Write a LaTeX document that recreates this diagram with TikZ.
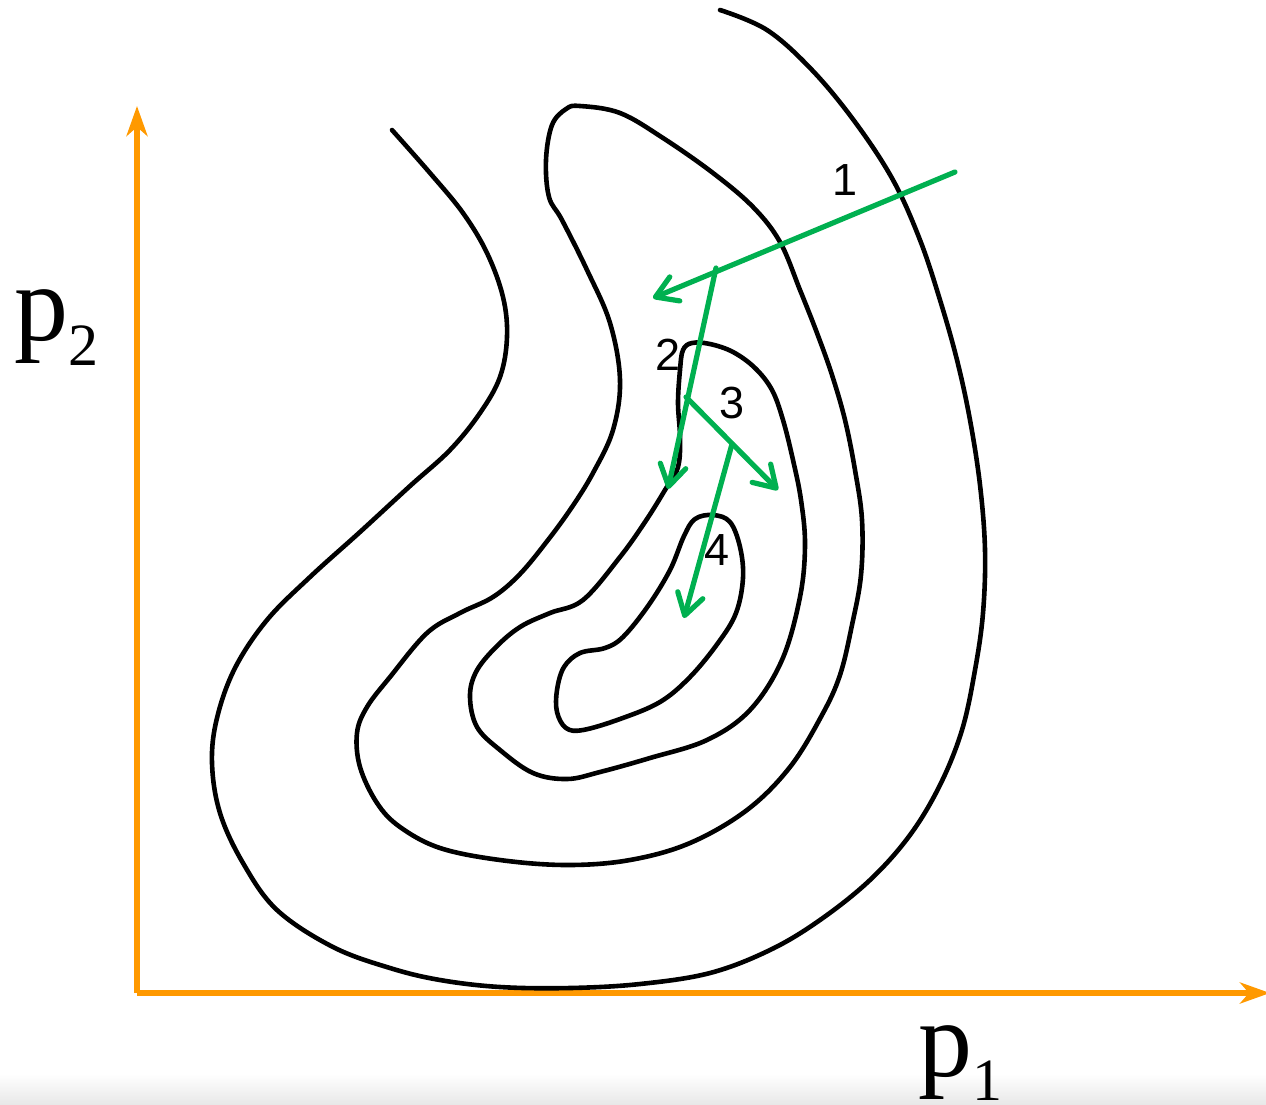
\documentclass[tikz,border=0pt]{standalone}
\usepackage{fontspec}
\setmainfont{Liberation Serif}
\newfontfamily\arialf{Liberation Sans}
\usetikzlibrary{arrows.meta}
\definecolor{pgreen}{RGB}{0,176,80}
\definecolor{porange}{RGB}{255,153,0}
\begin{document}
\begin{tikzpicture}[x=1pt,y=-1pt,
  contour/.style={draw=black, line width=4.6pt, line join=round, line cap=round},
  grad/.style={draw=pgreen, line width=5.2pt, line cap=round, -{Straight Barb[length=21pt,width=26pt,round]}},
  axisline/.style={draw=porange, line width=6.5pt, -{Stealth[length=30pt,width=21pt,inset=9pt]}},
  num/.style={font=\arialf\fontsize{45}{45}\selectfont, inner sep=0pt, anchor=base},
  axlabel/.style={font=\fontsize{108}{108}\selectfont, inner sep=0pt, anchor=base west}]
\useasboundingbox (0,0) rectangle (1266,1104);
\shade[top color=white, bottom color=black!9] (0,1074) rectangle (1266,1104);

% axes
\coordinate (O) at (137,993);
\coordinate (ytip) at (137,106);
\coordinate (xtip) at (1270,993);
\draw[axisline] (O) -- (ytip);
\draw[axisline] (O) -- (xtip);
\node[axlabel] (p2) at (14,340) {p\raisebox{-25pt}{\fontsize{60}{60}\selectfont 2}};
\node[axlabel] (p1) at (918,1076) {p\raisebox{-24pt}{\fontsize{60}{60}\selectfont 1}};

% outer open contour
\draw[contour] plot[smooth, tension=0.6] coordinates {
 (720,10) (767,30) (812,70) (855,122) (893,180) (920,240) (940,300) (957,360)
 (970,420) (980,485) (985,550) (983,613) (975,670) (962,730) (940,785) (910,835)
 (870,880) (820,920) (770,950) (710,973) (640,984) (570,988) (500,987) (440,980)
 (390,968) (333,947) (277,910) (243,863) (220,813) (212,763) (217,718) (235,668)
 (267,620) (310,577) (360,532) (410,486) (450,450) (480,413) (500,377) (507,337)
 (503,297) (487,253) (463,213) (430,173) (392,130)};

% second contour
\draw[contour] plot[smooth cycle, tension=0.6] coordinates {
 (580,106) (620,113) (663,138) (713,173) (753,207) (780,242) (800,290) (817,333)
 (832,375) (845,420) (855,470) (862,520) (861,575) (852,625) (840,675) (822,715)
 (790,767) (747,810) (690,843) (630,860) (567,865) (500,860) (440,848) (400,827)
 (377,803) (360,767) (357,733) (367,707) (390,677) (427,633) (460,613) (493,597)
 (520,574) (548,540) (572,507) (593,473) (613,430) (620,380) (610,323) (587,270)
 (562,220) (549,197) (546,160) (552,125) (566,109)};

% third contour
\draw[contour] plot[smooth cycle, tension=0.6] coordinates {
 (692,343) (710,344) (733,352) (755,368) (772,390) (783,420) (793,460) (801,500)
 (805,545) (800,597) (782,660) (750,710) (707,740) (650,758) (600,772) (567,779)
 (533,773) (500,750) (477,727) (470,697) (476,672) (495,648) (520,627) (550,613)
 (583,600) (620,557) (645,522) (665,490) (678,467) (680,437) (678,403) (680,370)
 (683,350)};

% innermost contour
\draw[contour] plot[smooth cycle, tension=0.6] coordinates {
 (695,519) (713,515) (730,522) (740,547) (743,578) (736,613) (718,643) (690,677)
 (660,702) (620,719) (583,730) (566,728) (557,712) (557,690) (564,667) (580,653)
 (605,648) (623,637) (648,606) (670,570) (684,536)};

% gradient steps
\coordinate (g1s) at (955,172);
\coordinate (g1e) at (653,298);
\coordinate (g2s) at (716,268);
\coordinate (g2e) at (668,489);
\coordinate (g3s) at (686,397);
\coordinate (g3e) at (778,490);
\coordinate (g4s) at (732,444);
\coordinate (g4e) at (684,618);
\draw[grad] (g1s) -- (g1e);
\draw[grad] (g2s) -- (g2e);
\draw[grad] (g3s) -- (g3e);
\draw[grad] (g4s) -- (g4e);

% step labels
\node[num] (n1) at (845,195) {1};
\node[num] (n2) at (668,370) {2};
\node[num] (n3) at (732,418) {3};
\node[num] (n4) at (717,565) {4};
\end{tikzpicture}
\end{document}
